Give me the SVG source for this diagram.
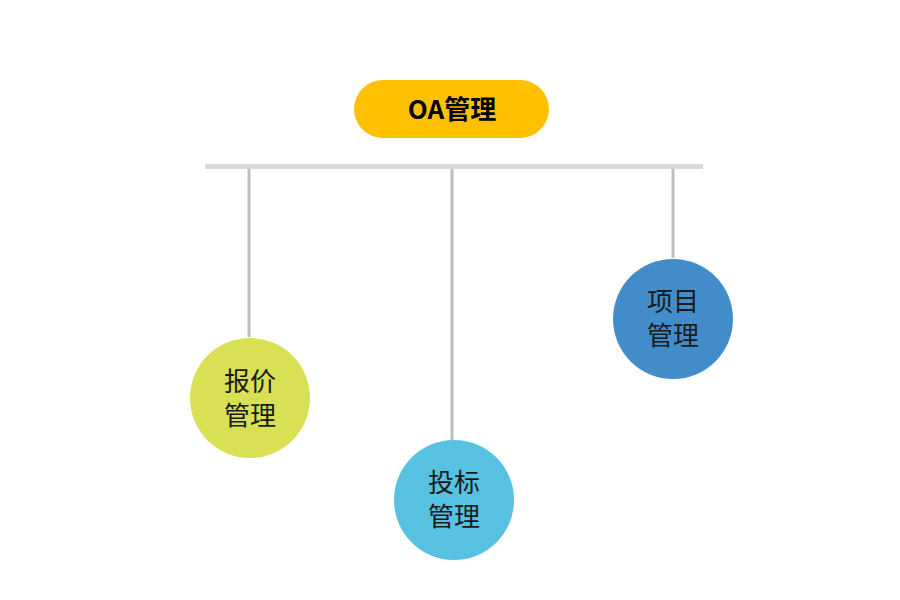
<svg xmlns="http://www.w3.org/2000/svg" width="900" height="600" viewBox="0 0 900 600">
<style>
.l{stroke:#bfbfbf;stroke-width:3}
.t{font-family:"Noto Sans CJK SC",sans-serif;font-size:26px;fill:#1a1a1a;text-anchor:middle}
</style>
<rect width="900" height="600" fill="#fff"/>
<g id="connectors">
<line x1="205" y1="166.5" x2="703" y2="166.5" stroke="#d9d9d9" stroke-width="5"/>
<line class="l" x1="249" y1="169" x2="249" y2="337"/>
<line class="l" x1="452" y1="169" x2="452" y2="440"/>
<line class="l" x1="673" y1="169" x2="673" y2="258"/>
</g>
<g id="root"><rect x="354" y="80" width="195" height="58" rx="29" fill="#ffc000"/>
<text x="452" y="119" style="font-family:'Noto Sans CJK SC',sans-serif;font-size:26px;font-weight:bold;text-anchor:middle">OA管理</text></g>
<g id="n1"><circle cx="250" cy="398" r="60" fill="#d9e053"/><text class="t" x="250" y="391">报价</text><text class="t" x="250" y="425">管理</text></g>
<g id="n2"><circle cx="454" cy="500" r="60" fill="#56c1e0"/><text class="t" x="454" y="492">投标</text><text class="t" x="454" y="526">管理</text></g>
<g id="n3"><circle cx="673" cy="319" r="60" fill="#428dc9"/><text class="t" x="673" y="311">项目</text><text class="t" x="673" y="345">管理</text></g>
</svg>
